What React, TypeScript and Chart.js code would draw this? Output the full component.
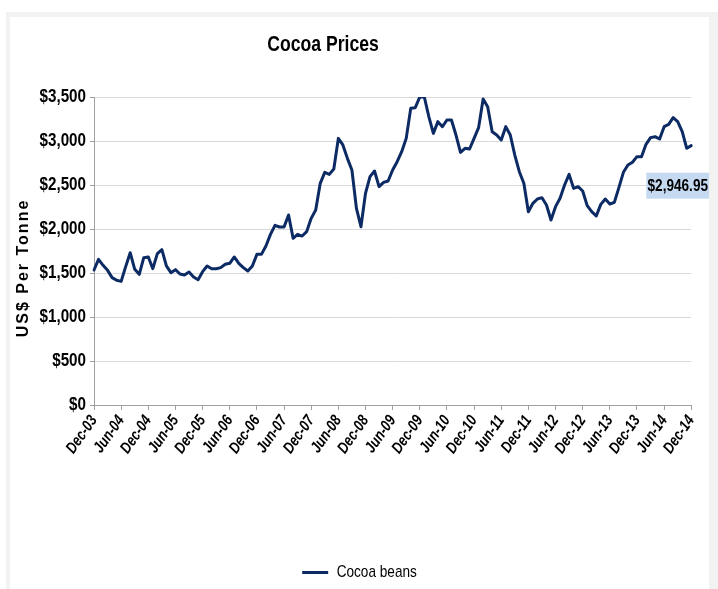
import React, { useEffect, useRef } from 'react';
import { Chart, registerables } from 'chart.js';

Chart.register(...registerables);

const MONTHS = ['Jan', 'Feb', 'Mar', 'Apr', 'May', 'Jun', 'Jul', 'Aug', 'Sep', 'Oct', 'Nov', 'Dec'];
const FIRST_YEAR = 2003;
const LAST_YEAR = 2014;

// Monthly categories Dec-03 .. Dec-14
const categories: string[] = (() => {
  const out: string[] = [];
  for (let y = FIRST_YEAR; y <= LAST_YEAR; y++) {
    for (let m = 0; m < 12; m++) {
      if (y === FIRST_YEAR && m < 11) continue;
      out.push(`${MONTHS[m]}-${String(y % 100).padStart(2, '0')}`);
    }
  }
  return out;
})();

// Cocoa beans, US$ per tonne
const cocoaPrices: number[] = [
  1534, 1655, 1587, 1530, 1447, 1417, 1405, 1572, 1731, 1542, 1485, 1674,
  1682, 1549, 1720, 1765, 1580, 1504, 1538, 1489, 1477, 1511, 1455, 1424,
  1515, 1580, 1549, 1549, 1561, 1599, 1610, 1682, 1610, 1561, 1523, 1580,
  1712, 1712, 1807, 1939, 2042, 2023, 2023, 2159, 1894, 1939, 1920, 1970,
  2121, 2216, 2519, 2644, 2621, 2682, 3030, 2955, 2803, 2670, 2235, 2026,
  2405, 2595, 2659, 2481, 2530, 2545, 2670, 2765, 2879, 3030, 3371, 3379,
  3500, 3500, 3277, 3087, 3220, 3163, 3239, 3239, 3068, 2871, 2917, 2909,
  3030, 3152, 3477, 3390, 3106, 3068, 3011, 3163, 3068, 2840, 2651, 2519,
  2197, 2292, 2341, 2356, 2273, 2102, 2254, 2349, 2500, 2621, 2462, 2481,
  2432, 2265, 2197, 2148, 2280, 2341, 2284, 2303, 2470, 2644, 2727, 2758,
  2822, 2822, 2962, 3038, 3049, 3023, 3163, 3189, 3265, 3220, 3106, 2917,
  2946.95,
];

const yTicks: number[] = [0, 500, 1000, 1500, 2000, 2500, 3000, 3500];
const LABEL_EVERY = 6;

const TITLE = 'Cocoa Prices';
const Y_TITLE = 'US$ Per Tonne';
const SERIES_NAME = 'Cocoa beans';
const LAST_LABEL = '$2,946.95';

const LINE = '#0c2a63';
const FONT = "'Liberation Sans', Arial, sans-serif";
const NARROW_FACTOR = 0.8; // emulates the condensed (Arial Narrow-like) face of the original

// Draw canvas text horizontally condensed (no narrow font is installed)
function condenseText(ctx: any, factor: number) {
  if (!ctx || ctx.__condensed) return;
  const origFill = ctx.fillText;
  const origMeasure = ctx.measureText;
  ctx.fillText = function (text: string, x: number, y: number, maxWidth?: number) {
    this.save();
    this.translate(x, y);
    this.scale(factor, 1);
    if (maxWidth !== undefined && maxWidth !== null) origFill.call(this, text, 0, 0, maxWidth / factor);
    else origFill.call(this, text, 0, 0);
    this.restore();
  };
  ctx.measureText = function (text: string) {
    const m = origMeasure.call(this, text);
    return {
      width: m.width * factor,
      actualBoundingBoxLeft: m.actualBoundingBoxLeft * factor,
      actualBoundingBoxRight: m.actualBoundingBoxRight * factor,
      actualBoundingBoxAscent: m.actualBoundingBoxAscent,
      actualBoundingBoxDescent: m.actualBoundingBoxDescent,
      fontBoundingBoxAscent: m.fontBoundingBoxAscent,
      fontBoundingBoxDescent: m.fontBoundingBoxDescent,
    };
  };
  ctx.__condensed = true;
}

const lastValueLabel = {
  id: 'lastValueLabel',
  afterDatasetsDraw(chart: any) {
    const meta = chart.getDatasetMeta(0);
    const pt = meta.data[meta.data.length - 1];
    if (!pt) return;
    const ctx = chart.ctx;
    ctx.save();
    const left = pt.x - 45;
    const top = pt.y + 27;
    const w = 63;
    const h = 26;
    ctx.fillStyle = '#c5d9f1';
    ctx.fillRect(left, top, w, h);
    ctx.fillStyle = '#000';
    ctx.font = `bold 17px ${FONT}`;
    ctx.textAlign = 'center';
    ctx.textBaseline = 'middle';
    ctx.fillText(LAST_LABEL, left + w / 2, top + h / 2 + 1);
    ctx.restore();
  },
};

export default function App() {
  const canvasRef = useRef<HTMLCanvasElement | null>(null);

  useEffect(() => {
    const canvas = canvasRef.current;
    if (!canvas) return;
    condenseText(canvas.getContext('2d'), NARROW_FACTOR);
    const chart = new Chart(canvas, {
      type: 'line',
      data: {
        labels: categories,
        datasets: [
          {
            label: SERIES_NAME,
            data: cocoaPrices,
            borderColor: LINE,
            backgroundColor: LINE,
            borderWidth: 3,
            pointRadius: 0,
            tension: 0,
            borderJoinStyle: 'round',
            borderCapStyle: 'round',
            fill: false,
          },
        ],
      },
      options: {
        responsive: false,
        animation: false,
        events: [],
        layout: { padding: { top: 80, right: 17, left: 17, bottom: 0 } },
        plugins: {
          title: { display: false },
          tooltip: { enabled: false },
          legend: {
            display: true,
            position: 'bottom',
            labels: {
              boxWidth: 26,
              boxHeight: 3,
              padding: 6,
              color: '#000',
              font: { family: FONT, size: 17, weight: 'normal' },
              generateLabels: () => [
                {
                  text: SERIES_NAME,
                  fillStyle: LINE,
                  strokeStyle: LINE,
                  lineWidth: 0,
                  hidden: false,
                  datasetIndex: 0,
                },
              ],
            },
          },
        },
        scales: {
          x: {
            type: 'category',
            offset: false,
            grid: {
              display: true,
              drawOnChartArea: false,
              drawTicks: true,
              tickLength: 5,
              tickColor: '#a0a0a0',
            },
            border: { display: true, color: '#a0a0a0', width: 1 },
            ticks: {
              autoSkip: false,
              minRotation: 55,
              maxRotation: 55,
              padding: 2,
              color: '#000',
              font: { family: FONT, size: 16, weight: 'bold', style: 'italic' },
              callback: (_v: any, idx: number) => (idx % LABEL_EVERY === 0 ? categories[idx] : null),
            },
            afterFit: (scale: any) => {
              scale.height = 153;
            },
          },
          y: {
            min: yTicks[0],
            max: yTicks[yTicks.length - 1],
            grid: {
              color: '#d9d9d9',
              tickColor: '#a0a0a0',
              tickLength: 4,
              drawTicks: true,
            },
            border: { display: true, color: '#a0a0a0', width: 1 },
            ticks: {
              stepSize: yTicks[1] - yTicks[0],
              padding: 4,
              color: '#000',
              font: { family: FONT, size: 19, weight: 'bold' },
              callback: (v: any) => '$' + Number(v).toLocaleString('en-US'),
            },
            afterFit: (scale: any) => {
              scale.width = 67;
            },
          },
        },
      },
      plugins: [lastValueLabel],
    } as any);
    return () => chart.destroy();
  }, []);

  return (
    <div
      style={{
        position: 'fixed',
        left: 0,
        top: 0,
        width: 718,
        height: 589,
        background: '#ffffff',
        overflow: 'hidden',
      }}
    >
      <div
        style={{
          position: 'absolute',
          left: 6,
          top: 12,
          width: 712,
          height: 577,
          background: '#f2f2f2',
        }}
      />
      <div
        style={{
          position: 'absolute',
          left: 10,
          top: 17,
          width: 699,
          height: 574,
          background: '#ffffff',
        }}
      >
        <canvas ref={canvasRef} width={699} height={574} style={{ display: 'block' }} />
      </div>
      <div
        style={{
          position: 'absolute',
          left: 173,
          top: 31,
          width: 300,
          height: 26,
          lineHeight: '26px',
          textAlign: 'center',
          fontFamily: FONT,
          fontWeight: 'bold',
          fontSize: 22,
          color: '#000',
          transform: `scaleX(${NARROW_FACTOR})`,
        }}
      >
        {TITLE}
      </div>
      <div
        style={{
          position: 'absolute',
          left: 23 - 100,
          top: 268 - 10,
          width: 200,
          height: 20,
          lineHeight: '20px',
          textAlign: 'center',
          transform: 'rotate(-90deg)',
          fontFamily: FONT,
          fontWeight: 'bold',
          fontSize: 16,
          letterSpacing: '2px',
          color: '#000',
        }}
      >
        {Y_TITLE}
      </div>
    </div>
  );
}
